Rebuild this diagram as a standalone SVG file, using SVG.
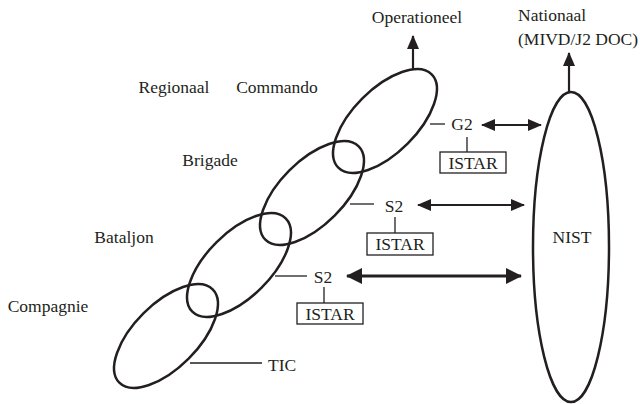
<svg xmlns="http://www.w3.org/2000/svg" width="644" height="404" viewBox="0 0 644 404" font-family="'Liberation Serif', 'Times New Roman', serif">
<defs>
<style>
text{font-family:'Liberation Serif','DejaVu Serif',serif;font-size:17.5px;fill:#231f20}
.m{text-anchor:middle}
.ell{fill:none;stroke:#231f20;stroke-width:2.5}
.ln{stroke:#231f20;stroke-width:1.3;fill:none}
.ar{stroke:#231f20;stroke-width:2.2;fill:none}
.arb{stroke:#231f20;stroke-width:3;fill:none}
.box{fill:#fff;stroke:#231f20;stroke-width:1.3}
</style>
<marker id="ah" viewBox="0 0 14 12" refX="13" refY="6" markerWidth="14" markerHeight="12" markerUnits="userSpaceOnUse" orient="auto-start-reverse">
<path d="M0,0 L14,6 L0,12 z" fill="#231f20"/>
</marker>
<marker id="ahb" viewBox="0 0 16 16" refX="15" refY="8" markerWidth="16" markerHeight="16" markerUnits="userSpaceOnUse" orient="auto-start-reverse">
<path d="M0,0 L16,8 L0,16 z" fill="#231f20"/>
</marker>
</defs>
<rect width="644" height="404" fill="#fff"/>

<g id="compagnie">
<ellipse class="ell" cx="166" cy="336" rx="66" ry="32" transform="rotate(-45 166 336)"/>
<text class="m" x="48" y="312">Compagnie</text>
</g>
<g id="bataljon">
<ellipse class="ell" cx="239" cy="265" rx="66" ry="32" transform="rotate(-45 239 265)"/>
<text class="m" x="124" y="243">Bataljon</text>
</g>
<g id="brigade">
<ellipse class="ell" cx="312" cy="193" rx="66" ry="32" transform="rotate(-45 312 193)"/>
<text class="m" x="210" y="166">Brigade</text>
</g>
<g id="commando">
<ellipse class="ell" cx="385" cy="121" rx="66" ry="32" transform="rotate(-45 385 121)"/>
<text class="m" x="174" y="93">Regionaal</text>
<text class="m" x="277" y="93">Commando</text>
</g>
<g id="nist">
<ellipse class="ell" cx="571" cy="247" rx="38" ry="155"/>
<text class="m" x="572" y="243">NIST</text>
</g>
<g id="operationeel">
<text class="m" x="417" y="23">Operationeel</text>
</g>
<g id="nationaal">
<text x="518" y="21">Nationaal</text>
<text x="518" y="45">(MIVD/J2 DOC)</text>
</g>
<g id="g2">
<text class="m" x="462" y="130">G2</text>
<rect class="box" x="440" y="152" width="66" height="21"/>
<text class="m" x="473" y="169">ISTAR</text>
</g>
<g id="s2-brigade">
<text class="m" x="394" y="212">S2</text>
<rect class="box" x="367" y="233" width="66" height="22"/>
<text class="m" x="400" y="250">ISTAR</text>
</g>
<g id="s2-bataljon">
<text class="m" x="323" y="283">S2</text>
<rect class="box" x="297" y="303" width="66" height="21"/>
<text class="m" x="330" y="320">ISTAR</text>
</g>
<g id="tic">
<text x="268" y="371">TIC</text>
</g>

<g id="connectors">
<line class="ar" x1="413" y1="70" x2="413" y2="36" marker-end="url(#ah)"/>
<line class="ar" x1="569" y1="92" x2="569" y2="53" marker-end="url(#ah)"/>
<line class="ln" x1="430" y1="124" x2="445" y2="124"/>
<line class="ln" x1="467" y1="137" x2="467" y2="152"/>
<line class="ar" x1="482" y1="125" x2="541" y2="125" marker-start="url(#ah)" marker-end="url(#ah)"/>
<line class="ln" x1="350" y1="204" x2="374" y2="204"/>
<line class="ln" x1="395" y1="217" x2="395" y2="233"/>
<line class="ar" x1="418" y1="205" x2="524" y2="205" marker-start="url(#ah)" marker-end="url(#ah)"/>
<line class="ln" x1="275" y1="276" x2="307" y2="276"/>
<line class="ln" x1="324" y1="287" x2="324" y2="303"/>
<line class="arb" x1="347" y1="276" x2="521" y2="276" marker-start="url(#ahb)" marker-end="url(#ahb)"/>
<line class="ln" x1="190" y1="363" x2="262" y2="363"/>
</g>
</svg>
